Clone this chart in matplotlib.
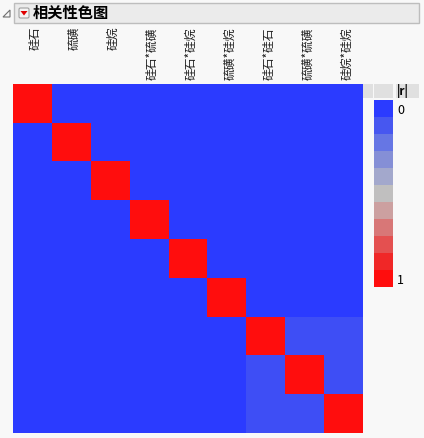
import matplotlib.pyplot as plt
import numpy as np
from matplotlib.colors import LinearSegmentedColormap
from matplotlib.patches import Rectangle, Polygon, FancyBboxPatch

plt.rcParams['font.family'] = ['Noto Sans CJK SC', 'DejaVu Sans']

# variables in the correlation map
names = ["硅石", "硫磺", "硅烷", "硅石*硫磺", "硅石*硅烷", "硫磺*硅烷",
         "硅石*硅石", "硫磺*硫磺", "硅烷*硅烷"]
# |r|: everything ~0 except squared terms (~0.07)
sq_r = 0.07
absr = np.zeros((9, 9))
absr[6:, 6:] = sq_r
np.fill_diagonal(absr, 1.0)

# legend swatches, |r| from 0 (top) to 1 (bottom)
legend_cols = ["#2b3bff", "#4858f0", "#6676e4", "#8690d6", "#a3a8cc", "#c0c0c0",
               "#cca0a0", "#d87878", "#e45050", "#f02828", "#ff0d0d"]
cmap = LinearSegmentedColormap.from_list("jmp", legend_cols)

W, H = 424, 438
fig = plt.figure(figsize=(W / 100, H / 100), dpi=100)
fig.patch.set_facecolor("#f8f8f8")

def box(x0, y0, x1, y1):
    return [x0 / W, 1 - y1 / H, (x1 - x0) / W, (y1 - y0) / H]

# title bar
bg = fig.add_axes([0, 0, 1, 1])
bg.set_xlim(0, W)
bg.set_ylim(H, 0)
bg.axis("off")
bg.add_patch(Rectangle((14, 3), 405, 20, facecolor="#ebebeb", edgecolor="#bdbdbd", lw=1))
bg.add_patch(Polygon([[3, 17], [10, 17], [10, 10]], closed=True, facecolor="none",
                     edgecolor="#707070", lw=0.8))
bg.add_patch(FancyBboxPatch((19, 8), 10, 10, boxstyle="round,pad=0,rounding_size=1.5",
                            facecolor="#f4f4f4", edgecolor="#a0a0a0", lw=0.8))
bg.add_patch(Polygon([[20.5, 11], [27.5, 11], [24, 15.5]], closed=True, facecolor="#e00000",
                     edgecolor="none"))
bg.text(33, 13, "相关性色图", fontsize=11, fontweight="bold", va="center", ha="left")

# heatmap
ax = fig.add_axes(box(13, 84, 363, 433))
ax.imshow(absr, cmap=cmap, vmin=0, vmax=1, aspect="auto", interpolation="nearest")
ax.set_xticks([])
ax.set_yticks([])
for s in ax.spines.values():
    s.set_visible(False)

# column labels
for i, n in enumerate(names):
    bg.text(13 + 38.9 * (i + 0.5) + 3, 27, n, rotation=90, fontsize=8.5,
            ha="center", va="top", color="#202020")

# legend
bg.add_patch(Rectangle((363, 84), 10, 14, facecolor="#e0e0e0", edgecolor="none"))
bg.add_patch(Rectangle((374, 84), 19, 14, facecolor="#e0e0e0", edgecolor="none"))
bg.add_patch(Rectangle((396, 84), 23, 14, facecolor="#e0e0e0", edgecolor="none"))
bg.text(403, 91, "|r|", fontsize=8.5, fontweight="bold", ha="center", va="center")
lax = fig.add_axes(box(374, 100, 393, 287))
lax.imshow(np.linspace(0, 1, len(legend_cols)).reshape(-1, 1), cmap=cmap, vmin=0, vmax=1,
           aspect="auto", interpolation="nearest")
lax.axis("off")
bg.text(397, 111, "0", fontsize=9, ha="left", va="center")
bg.text(397, 281, "1", fontsize=9, ha="left", va="center")

fig.savefig("out.png", dpi=100, facecolor=fig.get_facecolor())
